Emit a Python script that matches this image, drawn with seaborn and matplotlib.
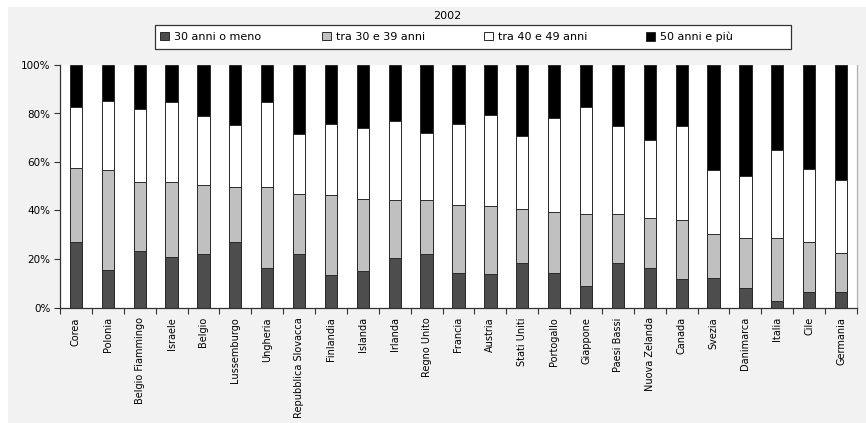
import numpy as np
import pandas as pd
import matplotlib
matplotlib.use("Agg")
import matplotlib.pyplot as plt
from matplotlib.patches import Patch, Rectangle
from matplotlib.ticker import FixedLocator, PercentFormatter
import seaborn as sns

# Share of teachers by age group (percent), 2002
countries = [
    "Corea", "Polonia", "Belgio Fiammingo", "Israele", "Belgio", "Lussemburgo",
    "Ungheria", "Repubblica Slovacca", "Finlandia", "Islanda", "Irlanda",
    "Regno Unito", "Francia", "Austria", "Stati Uniti", "Portogallo",
    "Giappone", "Paesi Bassi", "Nuova Zelanda", "Canada", "Svezia",
    "Danimarca", "Italia", "Cile", "Germania",
]
under_30 = [27.1, 15.4, 23.5, 20.9, 21.9, 27.1, 16.4, 21.9, 13.3, 15.1, 20.6,
            21.9, 14.3, 13.9, 18.2, 14.3, 8.7, 18.2, 16.1, 11.6, 12.1, 8.0,
            2.6, 6.2, 6.5]
age_30_39 = [30.3, 41.1, 28.4, 31.0, 28.6, 22.7, 33.1, 25.1, 32.9, 29.5, 23.6,
             22.3, 27.8, 27.8, 22.4, 24.9, 29.8, 20.3, 20.9, 24.6, 18.4, 20.6,
             26.0, 20.8, 16.1]
age_40_49 = [25.4, 28.6, 29.9, 32.7, 28.6, 25.3, 35.1, 24.5, 29.6, 29.3, 32.8,
             27.7, 33.4, 37.7, 30.2, 39.1, 44.2, 36.3, 32.1, 38.6, 26.2, 25.7,
             36.5, 30.1, 30.1]
age_50_plus = [17.2, 14.9, 18.2, 15.4, 20.9, 24.9, 15.4, 28.5, 24.2, 26.1, 23.0,
               28.1, 24.5, 20.6, 29.2, 21.7, 17.3, 25.2, 30.9, 25.2, 43.3, 45.7,
               34.9, 42.9, 47.3]

series_labels = ["30 anni o meno", "tra 30 e 39 anni", "tra 40 e 49 anni", "50 anni e più"]
series_colors = ["#4d4d4d", "#c0c0c0", "#ffffff", "#000000"]
title = "2002"

df = pd.DataFrame({
    "paese": countries,
    series_labels[0]: under_30,
    series_labels[1]: age_30_39,
    series_labels[2]: age_40_49,
    series_labels[3]: age_50_plus,
})
cum = df[series_labels].cumsum(axis=1)

sns.set_style("white")
plt.rcParams["font.family"] = ["DejaVu Sans"]
plt.rcParams["text.color"] = "black"
plt.rcParams["xtick.labelcolor"] = "black"
plt.rcParams["ytick.labelcolor"] = "black"

W, H = 866, 423
fig = plt.figure(figsize=(W / 100, H / 100), dpi=100)
fig.patch.set_facecolor("white")
fig.add_artist(Rectangle((8 / W, 0), 1 - 8 / W, 1 - 7 / H, transform=fig.transFigure,
                         facecolor="#f2f2f2", edgecolor="none", zorder=-10))

ax = fig.add_axes([60 / W, 1 - 307.5 / H, 797 / W, 242.5 / H])
ax.set_facecolor("white")

# Stacked bars: draw cumulative totals from the top layer down
for label, color in zip(reversed(series_labels), reversed(series_colors)):
    sns.barplot(x=df["paese"], y=cum[label], color=color, saturation=1,
                width=0.385, edgecolor="#2a2a2a", linewidth=0.7, ax=ax,
                zorder=2)

ax.set_xlim(-0.5, len(countries) - 0.5)
ax.set_ylim(0, 100)
ax.set_xlabel("")
ax.set_ylabel("")
ax.yaxis.set_major_locator(FixedLocator([0, 20, 40, 60, 80, 100]))
ax.yaxis.set_major_formatter(PercentFormatter(100, decimals=0))
ax.tick_params(axis="y", length=4, width=0.8, color="#333333", pad=3,
               labelsize=7.5, labelcolor="black", direction="out", left=True)
ax.xaxis.set_minor_locator(FixedLocator(np.arange(-0.5, len(countries), 1.0)))
ax.tick_params(axis="x", which="major", length=0, pad=7, labelsize=7,
               labelcolor="black", labelrotation=90)
ax.tick_params(axis="x", which="minor", length=4, width=0.8, color="#333333",
               direction="out", bottom=True)
for lab in ax.get_xticklabels():
    lab.set_va("top")
    lab.set_ha("center")

for side in ["left", "bottom"]:
    ax.spines[side].set_color("#333333")
    ax.spines[side].set_linewidth(0.9)
ax.spines["top"].set_visible(False)
ax.spines["right"].set_color("#b0b0b0")
ax.spines["right"].set_linewidth(0.9)

fig.text(447 / W, 1 - 16 / H, title, ha="center", va="center", fontsize=8,
         color="black")

# Legend: one framed box with four equally wide slots
fig.add_artist(Rectangle((155 / W, 1 - 49 / H), 636 / W, 24 / H,
                         transform=fig.transFigure, facecolor="white",
                         edgecolor="#333333", linewidth=0.9, zorder=3))
for i, (lab, col) in enumerate(zip(series_labels, series_colors)):
    handle = Patch(facecolor=col, edgecolor="#2a2a2a", linewidth=0.7)
    fig.legend([handle], [lab], loc="center left",
               bbox_to_anchor=((160 + i * 162) / W, 1 - 37 / H),
               frameon=False, fontsize=8, handlelength=0.8, handleheight=0.8,
               handletextpad=0.5, borderpad=0, borderaxespad=0,
               labelcolor="black")

fig.savefig("out.png", dpi=100, facecolor=fig.get_facecolor())
